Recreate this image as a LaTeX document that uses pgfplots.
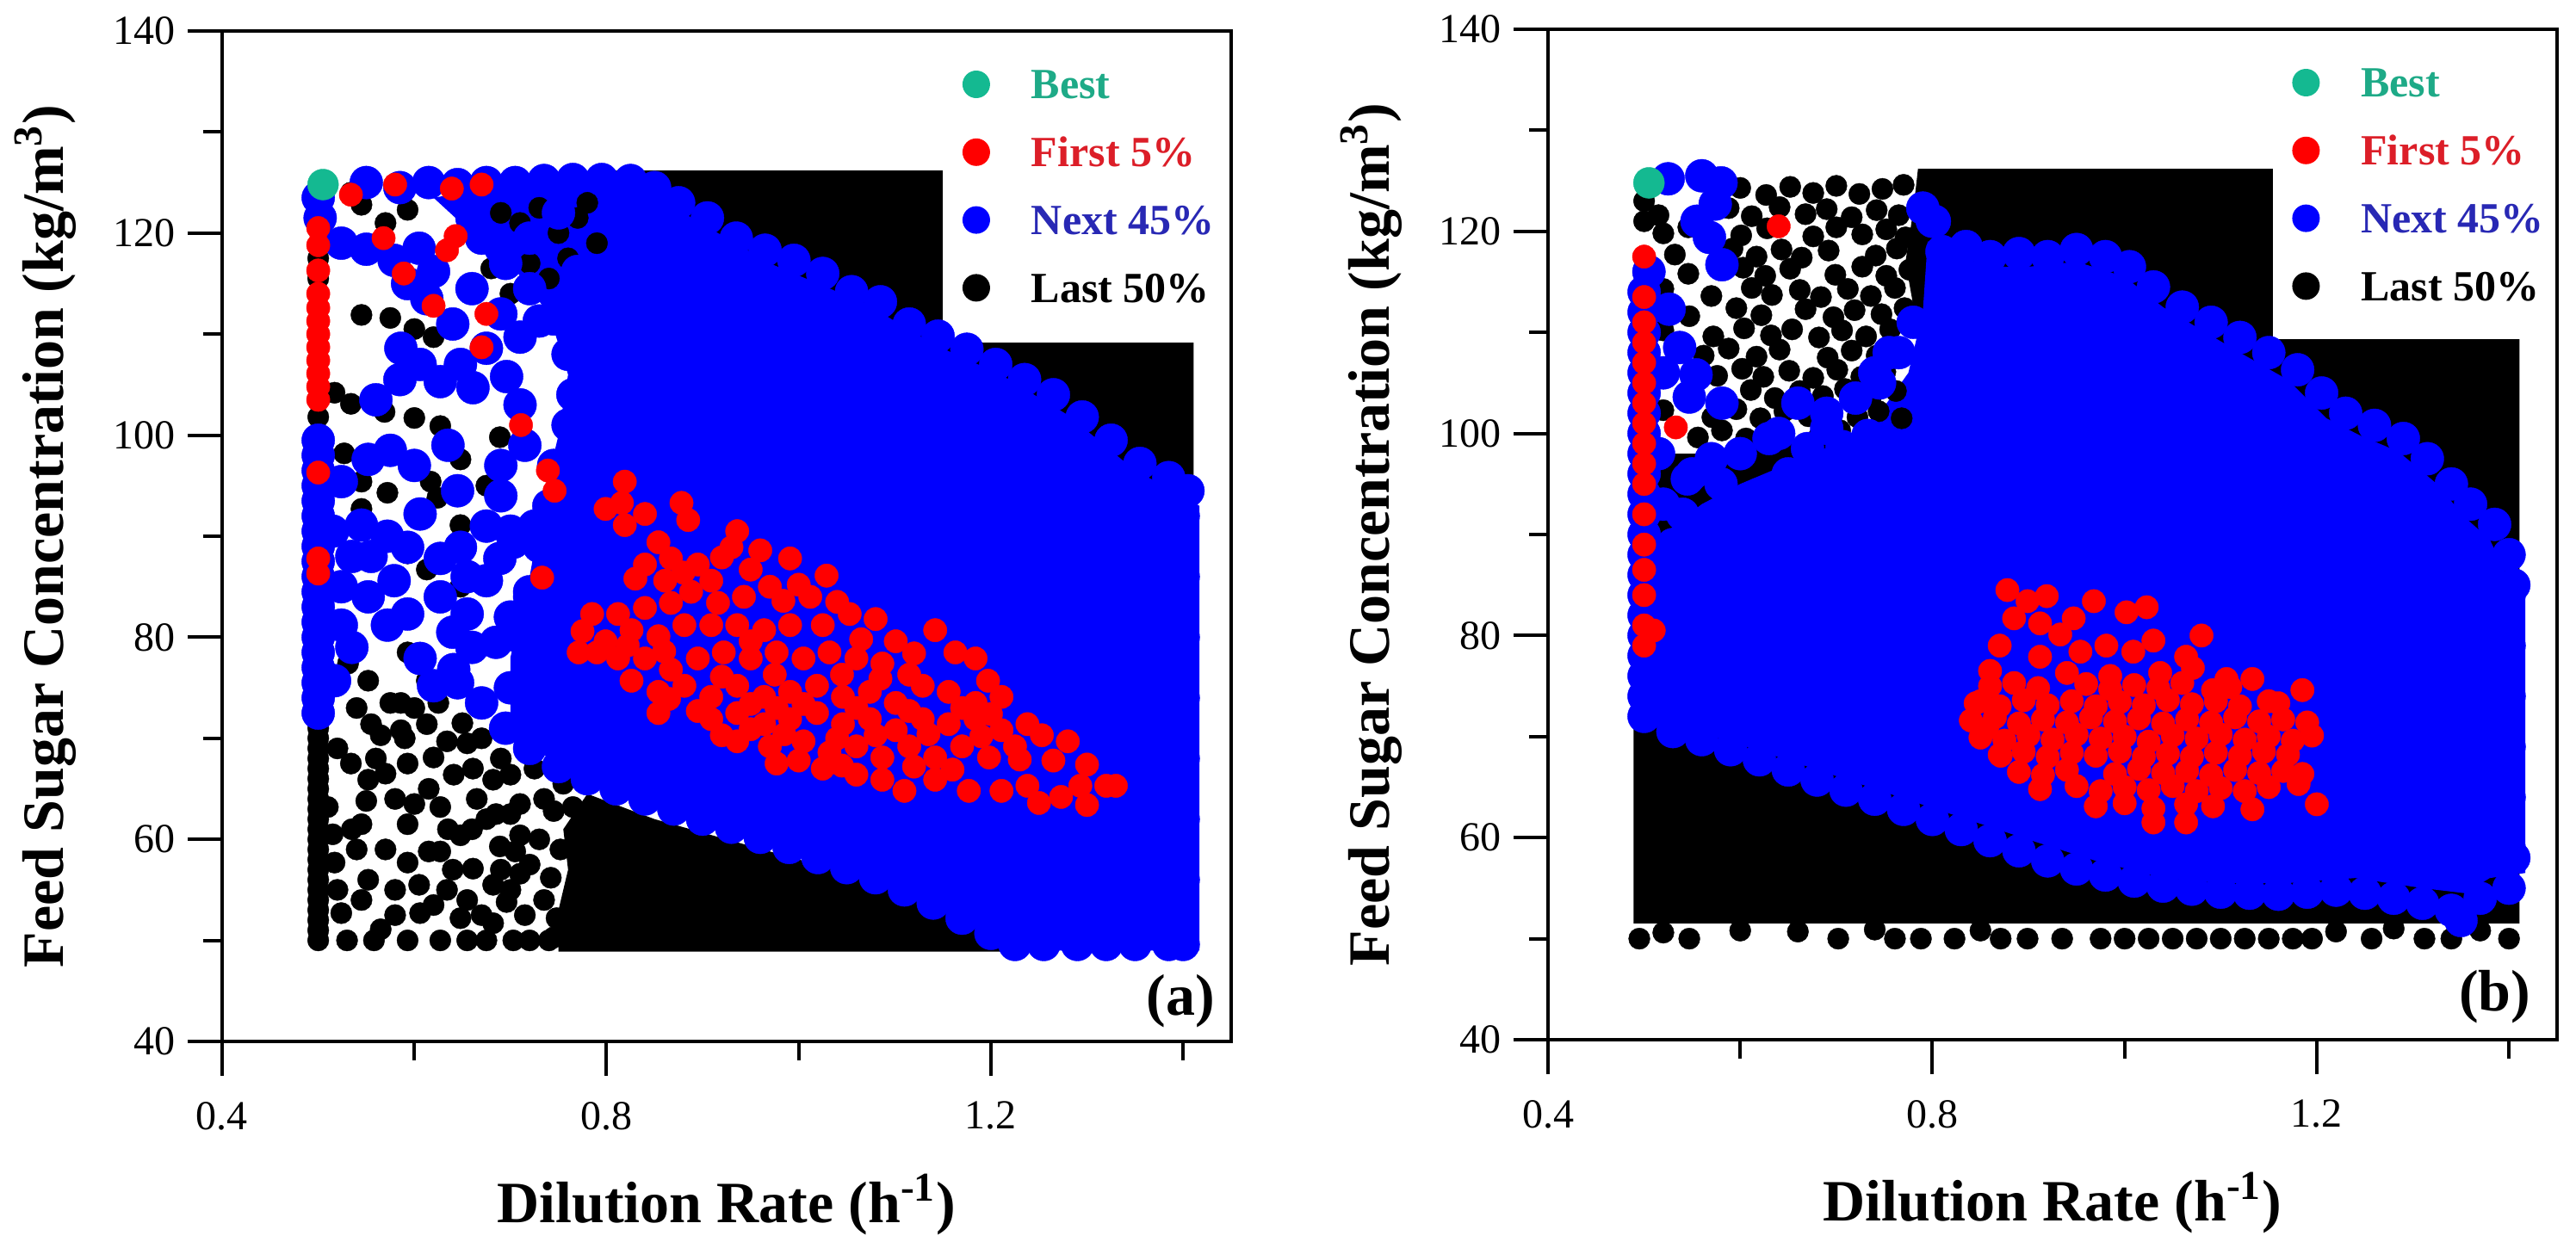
\documentclass[border=0pt]{standalone}
\usepackage{fontspec}
\setmainfont{Liberation Serif}
\usepackage{pgfplots}
\pgfplotsset{compat=1.18}
\definecolor{bestc}{RGB}{20,185,145}
\definecolor{bestt}{RGB}{30,170,135}
\definecolor{firstt}{RGB}{220,30,40}
\definecolor{nextt}{RGB}{40,40,180}
\newcommand\tickfont{\fontsize{12}{14}\selectfont}
\newcommand\labfont{\fontsize{17}{20}\selectfont\bfseries}
\newcommand\legfont{\fontsize{12.5}{15}\selectfont\bfseries}
\pgfplotsset{
  panel/.style={
    width=293pt, height=293.5pt, scale only axis,
    xmin=0.4, xmax=1.45, ymin=40, ymax=140,
    xtick={0.4,0.8,1.2}, minor xtick={0.6,1.0,1.4},
    ytick={40,60,80,100,120,140}, minor ytick={50,70,90,110,130},
    tick align=outside, tick pos=left,
    major tick length=10pt, minor tick length=5.5pt,
    every tick/.style={black, line width=1pt},
    axis line style={line width=1pt},
    ticklabel style={font=\tickfont},
    /pgf/number format/assume math mode=true,
    xticklabel shift=4pt,
    xlabel={Dilution Rate (h\textsuperscript{-1})},
    ylabel={Feed Sugar Concentration (kg/m\textsuperscript{3})},
    label style={font=\labfont},
    xlabel style={at={(axis description cs:0.5,-0.1618)}, anchor=center},
    ylabel style={at={(axis description cs:-0.175,0.5)}, anchor=center, rotate=0},
    axis on top,
    legend cell align=left, reverse legend,
    legend style={anchor=north west, yshift=-7.5pt, draw=none, fill=none,
      inner sep=0pt, row sep=4.7pt, font=\legfont,
      nodes={inner sep=0pt, text height=9pt, text depth=3pt},
      /tikz/every even column/.style={column sep=0pt}},
  },
  area/.style={draw=none, no markers, forget plot},
  blk/.style={only marks, mark=*, color=black, mark size=3.1pt, mark options={line width=0.1pt},
    legend image code/.code={\path[draw=none,fill=none] (0pt,-3pt) rectangle (25.5pt,9pt); \fill[black,draw=none] (9.5pt,1.2pt) circle (4pt);}},
  blu/.style={only marks, mark=*, color=blue, mark size=4.8pt, mark options={line width=0.1pt},
    legend image code/.code={\path[draw=none,fill=none] (0pt,-3pt) rectangle (25.5pt,9pt); \fill[blue,draw=none] (9.5pt,1.2pt) circle (4pt);}},
  rd/.style={only marks, mark=*, color=red, mark size=3.4pt, mark options={line width=0.1pt},
    legend image code/.code={\path[draw=none,fill=none] (0pt,-3pt) rectangle (25.5pt,9pt); \fill[red,draw=none] (9.5pt,1.2pt) circle (4pt);}},
  gr/.style={only marks, mark=*, color=bestc, mark size=4.5pt, mark options={line width=0.1pt},
    legend image code/.code={\path[draw=none,fill=none] (0pt,-3pt) rectangle (25.5pt,9pt); \fill[bestc,draw=none] (9.5pt,1.2pt) circle (4pt);}},
}
\begin{document}
\begin{tikzpicture}
\path[use as bounding box] (0,0) rectangle (748pt,362.25pt);
% ================= panel (a) =================
\begin{axis}[panel, at={(64.5pt,59.75pt)}, anchor=south west,
  legend style={at={(axis cs:1.15,140)}}]
\addplot[area, fill=black] coordinates {(0.80,126.2)(1.411,126.2)(1.411,90)(1.3,97)(1.1,108)(0.9,116)(0.80,119)} --cycle;
\addplot[area, fill=black] coordinates {(0.75,48.9)(1.24,48.9)(1.24,52)(1.0,58)(0.85,62)(0.78,64.5)(0.755,61)(0.76,57)(0.75,53)} --cycle;
\addplot[blk] coordinates {
(0.5,50)(0.5,51)(0.5,52)(0.5,53)(0.5,54)(0.5,55)(0.5,56)(0.5,57)(0.5,58)(0.5,59)(0.5,60)(0.5,61)
(0.5,62)(0.5,63)(0.5,64)(0.5,65)(0.5,66)(0.5,67)(0.5,68)(0.5,69)(0.5,70)(0.5,71)(0.5,72)
(0.5,115.5)(0.5,117.5)(0.5,101.8)
(0.69,122)(0.71,121)(0.73,122.5)(0.75,120)(0.77,121.5)(0.79,119)(0.72,117)(0.74,115.5)(0.70,114)(0.68,116.5)(0.76,117.5)(0.78,123)
(0.534,124)(0.545,122.8)(0.593,122.3)(0.57,121)(0.545,111.9)(0.575,111.6)(0.62,109.7)(0.60,110.5)
(0.517,104.2)(0.534,103.1)(0.569,102.3)(0.60,101.7)(0.627,100.9)(0.648,97.6)(0.689,99.8)
(0.527,98.2)(0.545,95.4)(0.572,94.3)(0.617,95.4)(0.624,93.8)(0.675,95)(0.545,92.7)(0.648,91.1)
(0.593,88.3)(0.613,86.7)(0.648,85)(0.531,77.4)(0.552,75.7)(0.593,78.5)(0.613,75.7)(0.586,73.5)
(0.555,71.4)(0.565,70.3)(0.586,70.8)(0.613,71.4)(0.634,69.7)(0.655,69.5)(0.534,67.5)(0.552,65.9)
(0.593,67.5)(0.62,68.1)(0.641,66.4)(0.661,67)(0.682,65.9)(0.70,66.4)(0.51,63.2)(0.545,61.5)
(0.593,61.5)(0.627,63.2)(0.648,60.4)(0.675,62)(0.689,59.3)(0.71,60.4)(0.517,57.7)(0.552,56)
(0.593,57.7)(0.627,58.8)(0.634,55)(0.661,57.1)(0.682,55.5)(0.71,56.6)(0.696,53.8)(0.524,52.7)
(0.565,51.1)(0.606,52.7)(0.648,52.2)(0.682,51.7)(0.53,50)(0.558,50)(0.593,50)(0.627,50)
(0.655,50)(0.675,50)(0.703,50)(0.71,63.5)(0.69,68)(0.66,61)(0.58,64)(0.57,59)(0.54,59)
(0.615,65)(0.605,55.5)(0.715,52.5)(0.72,57.5)(0.70,62.5)
(0.52,55)(0.535,61)(0.52,69)(0.54,73)(0.56,68)(0.575,73.5)(0.6,73)(0.625,73.5)(0.65,71.5)(0.67,70)
(0.59,70)(0.58,55)(0.615,58.8)(0.64,57)(0.655,54)(0.67,52.5)(0.69,57)(0.72,50)(0.735,54)(0.73,60)
(0.735,64)(0.725,67)(0.58,52.5)(0.545,54)(0.515,60.5)(0.6,63.5)(0.635,61)(0.665,64)(0.685,62.5)
(0.57,66.5)(0.55,63.8)(0.62,53.5)(0.705,58.8)(0.7,55)
(0.745,50.3)(0.748,52.2)(0.742,56.2)(0.752,59)(0.745,62.8)(0.755,65.5)(0.765,63.2)(0.74,50)
};
\addlegendentry{\textcolor{black}{Last 50\%}}
\addplot[area, fill=blue] coordinates {(0.62,123.5)(0.70,124.8)(0.84,124.8)(0.88,122)(0.97,117)(1.07,113)(1.14,109)(1.21,106)(1.28,102)(1.35,96.5)(1.40,94)(1.417,93)(1.417,49)(1.21,49)(1.17,52.5)(1.07,57)(0.94,61.5)(0.80,65.5)(0.72,69)(0.70,72)(0.70,78)(0.72,86)(0.735,94)(0.75,100)(0.76,106)(0.74,112)(0.70,117)(0.66,120)} --cycle;
\addplot[blu] coordinates {
(0.55,125)(0.585,124.5)(0.615,125)(0.645,124.8)(0.675,125)(0.705,125)(0.735,125.2)(0.765,125.3)(0.795,125.3)(0.825,125.2)(0.85,124.5)
(0.875,123)(0.905,121.5)(0.935,119.5)(0.965,118.3)(0.995,117.3)(1.025,116)(1.055,114.2)(1.085,113.2)(1.115,111)(1.145,109.8)
(1.175,108.5)(1.205,107)(1.235,105.5)(1.265,104)(1.295,101.8)(1.325,99.5)(1.355,97.2)(1.385,95.8)(1.405,94.5)
(0.645,75.5)(0.67,73.5)(0.695,71)(0.72,69)(0.75,67.2)(0.78,66)(0.81,65)(0.84,64)(0.87,63)(0.90,62)(0.93,61.2)
(0.96,60.2)(0.99,59.2)(1.02,58.2)(1.05,57.2)(1.08,56.2)(1.11,55)(1.14,53.7)(1.17,52.2)(1.20,50.7)(1.225,49.6)
(1.255,49.6)(1.29,49.6)(1.32,49.6)(1.35,49.6)(1.385,49.6)(1.40,49.6)
(1.40,92)(1.40,86)(1.40,80)(1.40,74)(1.40,68)(1.40,62)(1.40,56)
(0.5,72.5)(0.5,74)(0.5,75.5)(0.5,77)(0.5,78.5)(0.5,80)(0.5,81.5)(0.5,83)(0.5,84.5)(0.5,86)(0.5,87.5)
(0.5,89)(0.5,90.5)(0.5,92)(0.5,93.5)(0.5,95)(0.5,96.5)(0.5,98)(0.5,99.5)(0.502,121.5)(0.5,123.5)
(0.524,119)(0.55,118.4)(0.579,117.3)(0.593,115)(0.62,116.2)(0.613,113.5)(0.605,118.5)
(0.586,108.6)(0.606,107)(0.627,105.3)(0.648,107)(0.675,108.6)(0.661,104.7)(0.696,105.8)(0.71,109.7)
(0.73,111.3)(0.758,113)(0.77,116.2)(0.69,112)(0.66,114.5)(0.69,118.5)(0.66,121.5)(0.72,119.5)(0.75,122)
(0.552,97.6)(0.524,95.4)(0.545,91.1)(0.572,90)(0.593,88.9)(0.606,92.2)(0.627,87.8)(0.579,85.6)
(0.552,84)(0.572,81.2)(0.593,82.3)(0.627,84)(0.655,82.3)(0.675,85.6)(0.689,87.8)(0.703,89.4)
(0.648,88.9)(0.606,77.9)(0.62,75.2)(0.641,76.8)(0.524,85)(0.524,81.2)(0.517,75.7)(0.66,79)
(0.675,91)(0.69,94)(0.70,82)(0.715,99)(0.725,91)(0.72,84)
(0.70,75)(0.71,80)(0.72,84.5)(0.73,89)(0.74,93)(0.745,97)(0.76,101)(0.765,104)(0.76,108)(0.745,111.5)
(0.72,114.5)(0.695,117)(0.67,119.5)
(0.64,80.5)(0.655,86)(0.685,79.5)(0.70,90.5)(0.69,97)(0.71,103)(0.645,94.5)(0.635,99)(0.60,97)
(0.575,98.5)(0.56,103.5)(0.585,105.5)(0.64,111)(0.555,88)(0.515,90.5)(0.535,88)(0.535,79)
};
\addlegendentry{\textcolor{nextt}{Next 45\%}}
\addplot[rd] coordinates {
(0.5,103.5)(0.5,104.8)(0.5,106.1)(0.5,107.4)(0.5,108.7)(0.5,110)(0.5,111.3)(0.5,112.6)(0.5,114)
(0.5,116.3)(0.5,118.8)(0.5,120.5)(0.5,96.3)(0.5,86.3)(0.5,87.8)
(0.534,123.8)(0.58,124.8)(0.639,124.4)(0.67,124.8)(0.568,119.5)(0.643,119.7)(0.634,118.3)(0.589,116)
(0.62,112.8)(0.675,112)(0.67,108.7)(0.711,101)(0.739,96.5)(0.746,94.5)(0.733,85.9)(0.771,78.5)
(0.819,95.4)(0.816,93.3)(0.799,92.7)(0.84,92.2)(0.819,91.1)(0.878,93.3)(0.885,91.6)(0.936,90.5)
(0.93,88.9)(0.854,89.4)(0.867,87.8)(0.84,87.2)(0.861,85.6)(0.895,87.2)(0.909,85.6)(0.95,86.7)
(0.97,85)(0.991,87.8)(1.029,86.1)(1.012,84)(0.984,83.6)(0.943,84)(0.916,83.4)(0.888,84.5)
(0.867,83.4)(0.84,82.9)(0.812,82.3)(0.785,82.3)(0.775,80.6)(0.799,79.6)(0.826,80.7)(0.854,80.1)
(0.881,81.2)(0.909,81.2)(0.936,81.2)(0.964,80.7)(0.991,81.2)(1.025,81.2)(1.053,82.3)(1.08,81.8)(1.101,79.6)
(0.812,77.9)(0.84,77.9)(0.867,76.8)(0.895,77.9)(0.922,78.5)(0.95,77.9)(0.977,78.5)(1.005,77.9)
(1.032,78.5)(1.06,77.9)(1.087,77.4)(1.142,80.7)(1.163,78.5)(1.115,76.3)
(0.826,75.7)(0.854,74.6)(0.881,75.2)(0.909,74.1)(0.936,75.2)(0.964,74.1)(0.991,74.6)(1.019,75.2)
(1.046,74.1)(1.074,74.6)(1.101,73.5)(1.129,75.2)(1.156,74.6)(1.184,73.5)(1.211,74.1)
(0.854,72.5)(0.909,71.9)(0.936,72.5)(0.964,71.4)(0.991,71.9)(1.019,72.5)(1.046,71.4)(1.074,71.9)
(1.101,70.8)(1.129,71.9)(1.156,71.4)(1.184,71.9)(1.211,70.8)(1.238,71.4)
(0.936,69.7)(0.97,69.2)(1.005,69.7)(1.032,68.6)(1.06,69.2)(1.087,68.1)(1.115,69.2)(1.142,68.1)
(1.17,69.2)(1.198,68.1)(1.225,69.2)(1.253,70.3)(1.28,69.7)
(0.977,67.5)(1.025,67)(1.06,66.4)(1.087,65.9)(1.142,65.9)(1.177,64.8)(1.211,64.8)(1.238,65.3)
(1.273,64.2)(1.293,65.3)(1.32,65.3)(1.184,77.9)(1.197,75.7)
(0.83,85.8)(0.88,86.4)(0.92,87.9)(0.96,88.6)(1.0,85.2)(1.04,83.5)(1.065,79.8)(0.79,78.5)(0.822,79.2)
(0.86,78.6)(0.95,79.6)(1.12,78.4)(1.085,75.9)(1.045,76.3)(0.975,76.3)(0.92,76.1)(0.865,73.9)(0.895,72.7)
(0.95,73.4)(0.977,73)(1.005,73.4)(1.06,73)(1.115,72.7)(1.17,73)(1.2,72.4)(0.92,70.3)(0.95,70.9)
(0.985,70.4)(1.04,70)(1.08,70.3)(1.135,70.4)(1.19,70.2)(1.23,67.9)(1.265,67.8)(1.3,67.4)(1.0,67.8)
(1.045,67.3)(1.12,67.2)(1.16,66.9)(1.11,64.8)(1.25,63.6)(1.3,63.4)(1.33,65.3)
};
\addlegendentry{\textcolor{firstt}{First 5\%}}
\addplot[gr] coordinates {(0.505,124.8)};
\addlegendentry{\textcolor{bestt}{Best}}
\fill[white] (axis cs:1.15,109.2) rectangle (axis cs:1.45,140);
\node[anchor=south east, inner sep=0pt, font=\labfont] at (rel axis cs:1,0) [xshift=-4.5pt, yshift=3.7pt] {(a)};
\end{axis}
% ================= panel (b) =================
\begin{axis}[panel, at={(449.5pt,60.25pt)}, anchor=south west,
  legend style={at={(axis cs:1.154,140)}}]
\addplot[area, fill=black] coordinates {(0.785,126.2)(1.411,126.2)(1.411,51.5)(0.489,51.5)(0.489,98)(0.56,98)(0.65,99)(0.76,100)(0.775,104)(0.785,110)(0.772,117)(0.78,122)} --cycle;
\addplot[blk] coordinates {
(0.60,124.3)(0.627,123.6)(0.652,124.4)(0.676,123.8)(0.70,124.5)(0.724,123.7)(0.748,124.2)(0.77,124.6)
(0.515,121.6)(0.588,122.3)(0.612,121.5)(0.641,122.4)(0.668,121.7)(0.69,122.2)(0.716,121.4)(0.742,122.1)(0.765,121.6)
(0.52,119.8)(0.546,120.4)(0.601,119.6)(0.628,120.3)(0.676,119.5)(0.70,120.4)(0.727,119.7)(0.752,120.2)(0.772,119.4)
(0.532,117.7)(0.592,118.3)(0.617,117.5)(0.643,118.2)(0.664,117.4)(0.692,118.1)(0.741,117.6)(0.763,118.3)
(0.546,115.8)(0.603,116.4)(0.626,115.6)(0.652,116.3)(0.699,115.7)(0.727,116.5)(0.752,115.6)(0.776,116.2)
(0.52,114.3)(0.57,113.6)(0.612,114.4)(0.633,113.7)(0.662,114.2)(0.684,113.5)(0.712,114.3)(0.736,113.6)(0.761,114.4)
(0.547,111.6)(0.596,112.4)(0.622,111.7)(0.668,112.3)(0.697,111.5)(0.719,112.2)(0.747,111.8)(0.771,112.4)
(0.52,110.2)(0.572,109.6)(0.604,110.4)(0.632,109.7)(0.654,110.3)(0.682,109.5)(0.706,110.2)(0.731,109.6)(0.756,110.3)
(0.562,107.7)(0.588,108.4)(0.617,107.6)(0.641,108.3)(0.691,107.5)(0.716,108.2)(0.742,107.7)(0.766,108.4)
(0.52,106.3)(0.576,105.7)(0.602,106.4)(0.624,105.6)(0.651,106.2)(0.676,105.5)(0.701,106.3)(0.726,105.6)(0.751,106.1)
(0.547,103.6)(0.611,104.3)(0.636,103.5)(0.662,104.2)(0.686,103.7)(0.709,104.4)(0.736,103.6)(0.762,104.2)
(0.52,102.3)(0.571,101.6)(0.596,102.4)(0.621,101.5)(0.646,102.2)(0.671,101.7)(0.694,102.4)(0.722,101.6)(0.744,102.2)(0.768,101.5)
(0.556,99.6)(0.581,100.3)(0.606,99.5)(0.632,100.4)(0.682,99.7)(0.704,100.3)(0.731,99.6)
(0.5,121)(0.5,123)
(0.495,50)(0.547,50)(0.702,50)(0.761,50)(0.788,50)(0.823,50)(0.871,50)(0.899,50)(0.935,50)
(0.975,50)(1.0,50)(1.025,50)(1.05,50)(1.075,50)(1.10,50)(1.125,50)(1.15,50)(1.175,50)(1.195,50)
(1.257,50)(1.312,50)(1.34,50)(1.40,50)(0.52,50.6)(0.60,50.8)(0.66,50.7)(0.74,50.9)(0.85,50.8)(1.22,50.7)(1.28,51)(1.37,50.8)
};
\addlegendentry{\textcolor{black}{Last 50\%}}
\addplot[area, fill=blue] coordinates {(0.5,71.5)(0.5,84)(0.52,90)(0.56,93)(0.60,95)(0.65,97)(0.70,99)(0.745,102)(0.775,106)(0.79,112)(0.795,119)(0.82,119)(0.85,116.5)(0.90,116.5)(0.95,117)(1.0,115.5)(1.04,112.5)(1.07,110.8)(1.12,108)(1.17,105.3)(1.21,101.5)(1.245,99.8)(1.285,98.2)(1.325,95)(1.354,91.7)(1.38,89.5)(1.40,85.5)(1.417,84)(1.417,56.5)(1.38,56)(1.354,54.5)(1.31,55)(1.24,56)(1.17,55.5)(1.10,55.5)(1.04,56)(0.97,57.7)(0.90,59.8)(0.83,62)(0.76,64.2)(0.69,66.4)(0.62,68.6)(0.55,70.7)} --cycle;
\addplot[blu] coordinates {
(0.80,121)(0.81,118)(0.835,118.5)(0.86,117.5)(0.89,117.8)(0.92,117.5)(0.95,118.2)(0.98,117.5)(1.005,116.5)
(1.03,114.5)(1.06,112.5)(1.09,111)(1.12,109.5)(1.15,108)(1.18,106.3)(1.205,104)(1.23,102)(1.26,100.8)
(1.29,99.5)(1.315,97.5)(1.34,95)(1.36,93)(1.385,91)(1.40,88)(1.405,85)
(0.79,122.3)(0.815,115)(0.83,113)
(0.53,70.5)(0.56,69.7)(0.59,68.7)(0.62,67.7)(0.65,66.7)(0.68,65.7)(0.71,64.7)(0.74,63.8)(0.77,62.8)
(0.80,61.8)(0.83,60.8)(0.86,59.7)(0.89,58.7)(0.92,57.7)(0.95,56.9)(0.98,56.3)(1.01,55.7)(1.04,55.2)
(1.07,54.9)(1.10,54.6)(1.13,54.5)(1.16,54.4)(1.19,54.6)(1.22,54.8)(1.25,54.5)(1.28,54)(1.31,53.5)
(1.34,52.8)(1.35,51.8)(1.37,54)(1.40,55)(1.405,58)
(1.40,84)(1.40,79)(1.40,74)(1.40,69)(1.40,64)(1.40,59)
(0.5,72)(0.5,74)(0.5,76)(0.5,78)(0.5,80)(0.5,82)(0.5,84)(0.5,86)(0.5,88)(0.5,90)(0.5,92)(0.5,94)
(0.5,96)(0.5,98)(0.5,100)(0.5,102)(0.5,104)(0.5,106)(0.5,108)(0.5,110)(0.5,112)(0.5,114)(0.505,116)
(0.525,125.2)(0.56,125.5)(0.58,124.8)(0.574,122.7)(0.568,119.4)(0.581,116.7)(0.555,121)(0.526,112.3)
(0.537,108.5)(0.554,105.8)(0.581,103)(0.547,103.6)(0.52,106)(0.515,98)
(0.706,98.7)(0.733,99.8)(0.54,92)(0.53,89)(0.56,88)(0.59,91)(0.62,94)(0.65,96)(0.67,98.5)(0.69,100.5)
(0.58,95)(0.55,96)(0.60,98)(0.64,100)(0.62,86)(0.56,86)(0.66,90)(0.70,93)(0.73,97)(0.802,121)(0.816,112.9)
(0.66,103)(0.74,106)(0.755,108)
(0.52,93)(0.545,95.5)(0.57,97.5)(0.63,99.5)(0.69,102)(0.72,103.5)(0.745,105)(0.765,108)(0.78,111)
};
\addlegendentry{\textcolor{nextt}{Next 45\%}}
\addplot[rd] coordinates {
(0.5,117.5)(0.5,113.5)(0.5,111)(0.5,109)(0.5,107)(0.5,105)(0.5,103)(0.5,101)(0.5,99)(0.5,97)(0.5,95)
(0.5,92)(0.5,89)(0.5,86.5)(0.5,84)(0.5,81)(0.5,79)(0.64,120.5)(0.533,100.6)(0.51,80.5)
(0.878,84.5)(0.899,83.4)(0.919,83.9)(0.885,81.7)(0.912,81.2)(0.947,81.7)(0.968,83.4)(1.002,82.3)
(1.023,82.8)(0.933,80.1)(0.954,78.4)(0.981,79)(1.009,78.4)(1.03,79.5)(1.064,77.9)(0.912,77.9)
(0.94,76.3)(1.037,76.3)(1.071,76.8)(1.106,75.7)(1.133,75.7)(1.092,74.6)(1.185,74.6)(1.15,73.5)
(0.87,79)(0.86,76.5)(0.985,76)(1.08,80)
(0.86,75.0)(0.885,75.3)(0.91,74.8)(0.96,75.2)(0.985,74.7)(1.01,75.1)(1.035,74.8)(1.06,75.3)(1.11,74.9)
(0.845,73.3)(0.87,73.0)(0.895,73.6)(0.92,73.1)(0.945,73.5)(0.97,73.0)(0.995,73.4)(1.02,73.1)(1.045,73.6)
(1.07,73.2)(1.095,73.5)(1.12,73.0)(1.16,73.3)
(0.84,71.6)(0.865,71.9)(0.89,71.3)(0.915,71.7)(0.94,71.4)(0.965,71.9)(0.99,71.5)(1.015,71.8)(1.04,71.3)
(1.065,71.7)(1.09,71.4)(1.115,71.9)(1.14,71.5)(1.165,71.7)(1.19,71.4)
(0.85,69.9)(0.875,69.6)(0.9,70.1)(0.925,69.7)(0.95,70.2)(0.975,69.8)(1.0,70.0)(1.025,69.5)(1.05,70.1)
(1.075,69.8)(1.1,70.2)(1.125,69.7)(1.15,70.0)(1.175,69.6)(1.195,70.1)
(0.87,68.2)(0.895,68.5)(0.92,68.0)(0.945,68.4)(0.97,68.1)(0.995,68.5)(1.02,68.0)(1.045,68.3)(1.07,68.0)
(1.095,68.4)(1.12,68.1)(1.145,68.5)(1.17,68.2)
(0.89,66.5)(0.915,66.2)(0.94,66.7)(0.99,66.3)(1.015,66.8)(1.04,66.4)(1.065,66.6)(1.09,66.2)(1.115,66.7)
(1.14,66.4)(1.165,66.6)(1.185,66.3)
(0.912,64.8)(0.95,65.1)(0.975,64.6)(1.0,65.0)(1.025,64.7)(1.05,65.1)(1.075,64.6)(1.1,64.9)(1.125,64.6)(1.15,65.0)
(0.97,63.1)(1.0,63.4)(1.03,62.9)(1.064,63.3)(1.092,63.1)(1.133,62.8)(1.20,63.3)(1.03,61.5)(1.064,61.5)
(0.85,73.5)(0.857,70.8)(0.871,68.1)(1.181,65.3)
};
\addlegendentry{\textcolor{firstt}{First 5\%}}
\addplot[gr] coordinates {(0.505,124.8)};
\addlegendentry{\textcolor{bestt}{Best}}
\fill[white] (axis cs:1.154,109.3) rectangle (axis cs:1.45,140);
\node[anchor=south east, inner sep=0pt, font=\labfont] at (rel axis cs:1,0) [xshift=-7.5pt, yshift=4.5pt] {(b)};
\end{axis}
\end{tikzpicture}
\end{document}
